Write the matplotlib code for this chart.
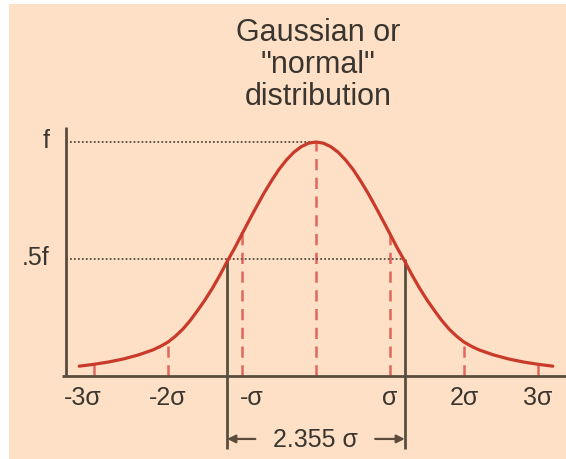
import numpy as np
import matplotlib
matplotlib.use('Agg')
import matplotlib.pyplot as plt
from matplotlib.patches import Rectangle

plt.rcParams['font.family'] = ['Liberation Sans', 'DejaVu Sans']

# ── data (x in units of sigma, y as fraction of peak f) ─
curve_x = [-3.2, -3.0, -2.8, -2.6, -2.4, -2.2, -2.1, -2.0, -1.9, -1.8, -1.7,
           -1.6, -1.5, -1.4, -1.3, -1.2, -1.1, -1.0, -0.9, -0.8, -0.7, -0.6,
           -0.5, -0.4, -0.3, -0.2, -0.1, 0.0, 0.1, 0.2, 0.3, 0.4, 0.5,
           0.6, 0.7, 0.8, 0.9, 1.0, 1.1, 1.2, 1.3, 1.4, 1.5, 1.6,
           1.7, 1.8, 1.9, 2.0, 2.1, 2.2, 2.4, 2.6, 2.8, 3.0, 3.2]
curve_y = [0.042, 0.05, 0.06, 0.073, 0.09, 0.112, 0.127, 0.145, 0.17, 0.20, 0.237,
           0.28, 0.325, 0.375, 0.43, 0.49, 0.546, 0.607, 0.667, 0.726, 0.783, 0.835,
           0.883, 0.923, 0.956, 0.98, 0.995, 1.0, 0.995, 0.98, 0.956, 0.923, 0.883,
           0.835, 0.783, 0.726, 0.667, 0.607, 0.546, 0.49, 0.43, 0.375, 0.325, 0.28,
           0.237, 0.20, 0.17, 0.145, 0.127, 0.112, 0.09, 0.073, 0.06, 0.05, 0.042]

sigma_ticks = [-3, -2, -1, 0, 1, 2, 3]
tick_labels = {-3: '-3σ', -2: '-2σ', -1: '-σ', 1: 'σ', 2: '2σ', 3: '3σ'}
fwhm_edges = [-1.2, 1.2]
levels = [1.0, 0.5]
level_labels = ['f', '.5f']

# ── figure: one axes over the whole canvas, data units = sigma / f ───────────
fig = plt.figure(figsize=(5.66, 4.60), dpi=100, facecolor='white')
ax = fig.add_axes([0, 0, 1, 1])
ax.set_xlim(-316 / 74, 250 / 74)
ax.set_ylim(-83 / 234, 377 / 234)
ax.axis('off')

ax.add_patch(Rectangle((9 / 566, 0), 1, 455 / 460, transform=ax.transAxes,
                       facecolor='#fde0c5', edgecolor='none', zorder=0))

axis_col = '#5a4d3e'
text_col = '#3a352e'
x_axis_left = -3.378

# axes lines
ax.plot([x_axis_left, x_axis_left], [0, 1.064], color=axis_col, lw=2.0,
        solid_capstyle='butt', zorder=3)
ax.plot([-3.43, 3.4], [0, 0], color=axis_col, lw=2.0, solid_capstyle='butt', zorder=3)

# dashed red verticals from baseline up to the curve
for s in sigma_ticks:
    top = curve_y[curve_x.index(float(s))]
    ax.plot([s, s], [0, top], color='#e2665c', lw=1.8, dashes=(4.5, 3),
            zorder=2)

# dotted reference levels
ax.plot([x_axis_left, 0], [levels[0], levels[0]], color=axis_col, lw=1.3,
        linestyle=(0, (1, 1.2)), zorder=2)
ax.plot([x_axis_left, fwhm_edges[1]], [levels[1], levels[1]], color=axis_col,
        lw=1.3, linestyle=(0, (1, 1.2)), zorder=2)

# gaussian curve
ax.plot(curve_x, curve_y, color='#c93a2a', lw=2.3, solid_capstyle='round',
        solid_joinstyle='round', zorder=4)

# FWHM markers
for e in fwhm_edges:
    ax.plot([e, e], [levels[1], -0.312], color='#57503f', lw=2.0,
            solid_capstyle='butt', zorder=3)

arrow_y = -0.269
ax.annotate('', xy=(fwhm_edges[0], arrow_y), xytext=(-0.82, arrow_y),
            arrowprops=dict(arrowstyle='-|>', color=axis_col, lw=1.6,
                            shrinkA=0, shrinkB=0, mutation_scale=12))
ax.annotate('', xy=(fwhm_edges[1], arrow_y), xytext=(0.80, arrow_y),
            arrowprops=dict(arrowstyle='-|>', color=axis_col, lw=1.6,
                            shrinkA=0, shrinkB=0, mutation_scale=12))
ax.text(-0.01, arrow_y, '2.355 σ', ha='center', va='center', fontsize=18,
        color=text_col)

# tick labels
label_shift = {-3: -0.15, -1: 0.13}
for s, lab in tick_labels.items():
    ax.text(s + label_shift.get(s, 0), -0.09, lab, ha='center', va='center',
            fontsize=18, color=text_col)

# level labels
for lv, lab in zip(levels, level_labels):
    ax.text(-3.6, lv + 0.01, lab, ha='right', va='center', fontsize=18,
            color=text_col)

ax.text(0.03, 1.333, 'Gaussian or\n"normal"\ndistribution', ha='center',
        va='center', multialignment='center', fontsize=22, linespacing=1.1,
        color=text_col)

fig.savefig('out.png', dpi=100, facecolor='white')
